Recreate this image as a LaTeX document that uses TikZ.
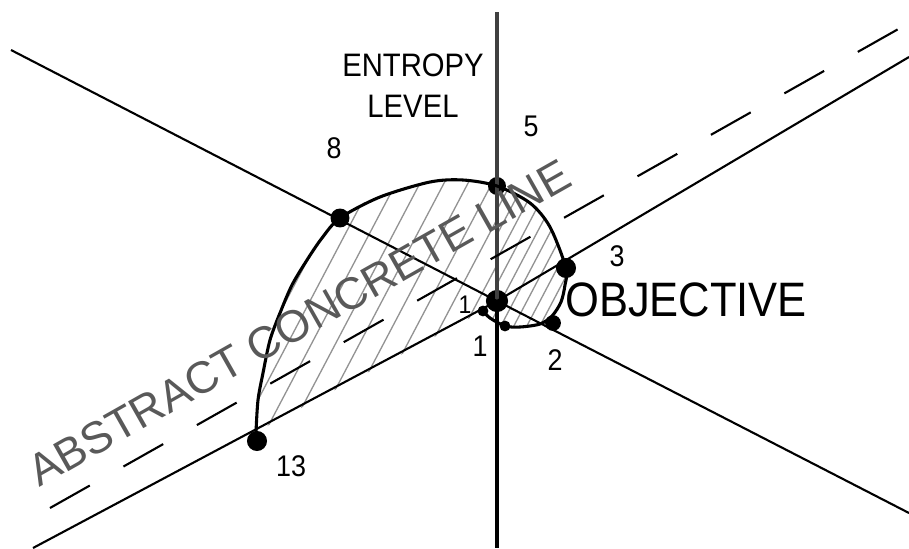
\documentclass[tikz,border=0pt]{standalone}
\usepackage{fontspec}
\setmainfont{Liberation Sans}
\newfontfamily\narrowfont[FakeStretch=0.9]{Liberation Sans}
\def\lobepath{plot[smooth, tension=0.5] coordinates {(256,432) (258,400) (263,373) (270,340) (280,313) (292,285) (307,260) (322,238) (340,218) (380,197) (430,182) (463,180) (497,186) (530,203) (550,227) (566,268) (565,285) (561,302) (552,316) (540,324) (520,327) (505,326) (490,318) (483,311)} -- (256,432) -- cycle}
\begin{document}
\begin{tikzpicture}[x=0.02cm, y=-0.02cm,
    every node/.style={inner sep=0pt},
    dot/.style={circle, fill, minimum size=#1},
    ray/.style={line width=1.2pt},
    hatch/.style={gray!85, line width=0.75pt},
    curve/.style={line width=1.75pt},
    num/.style={font=\narrowfont\fontsize{17}{20}\selectfont}]
    \useasboundingbox (0,0) rectangle (909,548);
    % hatching inside the lobe
    \begin{scope}
        \clip \lobepath;
        \clip (0,0) rectangle (497,548);
        \foreach \x in {60,84,...,420} \draw[hatch] (\x,548) -- ++(300,-570);
    \end{scope}
    \begin{scope}
        \clip \lobepath;
        \clip (497,0) rectangle (909,548);
        \foreach \x in {280,293,...,480} \draw[hatch] (\x,548) -- ++(300,-570);
    \end{scope}
    % points
    \node[dot=12.6pt] (o) at (497,301) {};
    \node[dot=11.4pt] (p13) at (257,441) {};
    \node[dot=10.8pt] (p8) at (340,218) {};
    \node[dot=10.2pt] (p5) at (497,186) {};
    \node[dot=11.4pt] (p3) at (566,268) {};
    \node[dot=9pt] (p2) at (553,323) {};
    \node[dot=6.2pt] (q1) at (483,311) {};
    \node[dot=6.2pt] (q0) at (505,326) {};
    % free ends of the lines
    \coordinate (vtop) at (497,12);
    \coordinate (vbot) at (497,548);
    \coordinate (dl) at (11,50);
    \coordinate (dr) at (909,513);
    \coordinate (al) at (33,548);
    \coordinate (ar) at (909,57);
    \coordinate (sl) at (50,508);
    \coordinate (sr) at (909,23);
    \draw[line width=2pt, black!75] (vtop) -- (o.center);
    \draw[line width=2pt] (o.center) -- (vbot);
    \draw[ray] (dl) -- (o.center) -- (dr);
    \draw[ray] (al) -- (o.center) -- (ar);
    \draw[ray, dash pattern=on 26pt off 22pt] (sl) -- (sr);
    \draw[curve] plot[smooth, tension=0.5] coordinates {(256,432) (258,400) (263,373) (270,340) (280,313) (292,285) (307,260) (322,238) (340,218) (380,197) (430,182) (463,180) (497,186) (530,203) (550,227) (566,268) (565,285) (561,302) (552,316) (540,324) (520,327) (505,326) (490,318) (483,311)};
    % labels
    \node[align=center, font=\narrowfont\fontsize{18.5}{23.2}\selectfont] (entropy) at (413,86) {ENTROPY\\LEVEL};
    \node[anchor=west, font=\narrowfont\fontsize{27.5}{30}\selectfont] (objective) at (565,300) {OBJECTIVE};
    \node[rotate=29.5, text=black!65, font=\fontsize{25.5}{28}\selectfont] (abstract) at (299,323) {ABSTRACT CONCRETE LINE};
    \foreach \lab/\pos in {8/{334,148}, 5/{531,126}, 3/{617,256}, 2/{555,360}, 1/{480,346}, 13/{291,466}}
        \node[num] (n\lab) at (\pos) {\lab};
    \node[num, font=\narrowfont\fontsize{14.5}{16}\selectfont] (n1b) at (465,305) {1};
\end{tikzpicture}
\end{document}
